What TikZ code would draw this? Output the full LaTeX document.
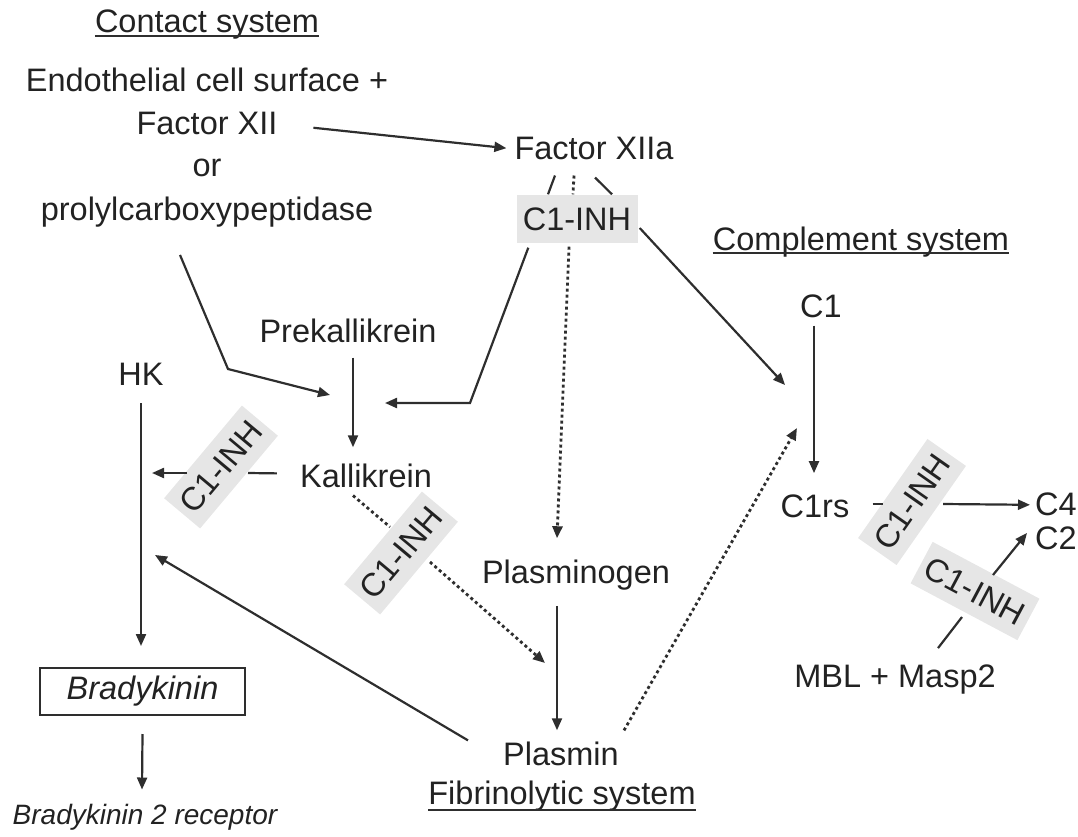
\documentclass[tikz,border=0pt]{standalone}
\usepackage{fontspec}
\setmainfont{Liberation Sans}
\usetikzlibrary{arrows.meta,calc}
\definecolor{txt}{HTML}{222222}
\definecolor{lin}{HTML}{2E2E2E}
\definecolor{inhfill}{HTML}{E6E6E6}
\begin{document}
\begin{tikzpicture}[x=1pt,y=-1pt,
  lbl/.style={inner sep=0pt, font=\fontsize{32.5}{39}\selectfont, text=txt},
  inh/.style={fill=inhfill, minimum width=121pt, minimum height=47pt, inner sep=0pt,
              font=\fontsize{32.5}{39}\selectfont, text=txt},
  conn/.style={draw=lin, line width=2.2pt},
  arr/.style={conn, -{Triangle[length=12pt,width=10pt]}},
  dotl/.style={dash pattern=on 3pt off 3pt, line width=2.8pt},
  uline/.style={draw=lin, line width=1.6pt}]
\useasboundingbox (0,0) rectangle (1078,837);

% ---- text nodes
\node[lbl,anchor=base] (cs) at (207,33) {Contact system};
\node[lbl,anchor=base] (endo) at (207,92) {Endothelial cell surface +};
\node[lbl,anchor=base] (fxii) at (207,135) {Factor XII};
\node[lbl,anchor=base] (or) at (207,177) {or};
\node[lbl,anchor=base] (prolyl) at (207,220) {prolylcarboxypeptidase};
\node[lbl,anchor=base] (fxiia) at (594,160) {Factor XIIa};
\node[inh] (inh1) at (577,219) {C1-INH};
\node[lbl,anchor=base] (cms) at (861,250) {Complement system};
\node[lbl,anchor=base] (c1) at (821,317) {C1};
\node[lbl,anchor=base] (c1rs) at (815,517) {C1rs};
\node[lbl,anchor=base west] (c4) at (1035,515) {C4};
\node[lbl,anchor=base west] (c2) at (1035,549) {C2};
\node[lbl,anchor=base] (mbl) at (895,687) {MBL + Masp2};
\node[lbl,anchor=base] (prek) at (348,342) {Prekallikrein};
\node[lbl,anchor=base] (kal) at (366,487) {Kallikrein};
\node[lbl,anchor=base] (hk) at (141,385) {HK};
\node[lbl,anchor=base] (plg) at (576,583) {Plasminogen};
\node[lbl,anchor=base] (plm) at (561,765) {Plasmin};
\node[lbl,anchor=base] (fib) at (562,804) {Fibrinolytic system};
\node[draw=lin, line width=2pt, minimum width=205pt, minimum height=47pt, inner sep=0pt,
      font=\itshape\fontsize{32.5}{39}\selectfont, text=txt] (brady) at (142.5,691.5) {Bradykinin};
\node[inner sep=0pt, anchor=base, font=\itshape\fontsize{28}{33}\selectfont, text=txt]
      (b2r) at (145,824) {Bradykinin 2 receptor};

% ---- rotated inhibitor boxes
\node[inh, rotate=50] (inh2) at (221,467) {C1-INH};
\node[inh, rotate=50] (inh3) at (401,553) {C1-INH};
\node[inh, rotate=55] (inh4) at (912,502) {C1-INH};
\node[inh, rotate=-28] (inh5) at (975,591) {C1-INH};

% ---- underlines
\draw[uline] ($(cs.base west)+(0,3)$) -- ($(cs.base east)+(0,3)$);
\draw[uline] ($(cms.base west)+(0,3)$) -- ($(cms.base east)+(0,3)$);
\draw[uline] ($(fib.base west)+(0,6)$) -- ($(fib.base east)+(0,6)$);

% ---- named free ends / bends
\coordinate (pk1) at (228,369);
\coordinate (pk2) at (330,395);
\coordinate (ik1) at (470,403);
\coordinate (ik2) at (385,403);
\coordinate (c1in) at (785,385);
\coordinate (c1in2) at (797,428);
\coordinate (hkin) at (152,473);
\coordinate (hkin2) at (155,555);
\coordinate (plmin) at (545,663);
\coordinate (c2in) at (1027,533);

% ---- contact system
\draw[arr, shorten <=36pt, shorten >=8pt] (fxii.east) -- (fxiia.west);
\draw[arr] ($(prolyl.south)+(-27,28)$) -- (pk1) -- (pk2);
\draw[conn] ($(fxiia.south)+(-39,15)$) -- ($(inh1.north)+(-29,-1)$);
\draw[conn, dotl] ($(fxiia.south)+(-20,15)$) -- ($(inh1.north)+(-4,-1)$);
\draw[conn] ($(fxiia.south)+(1,17)$) -- ($(inh1.north)+(35,-1)$);
\draw[arr] ($(inh1.south west)+(12,5)$) -- (ik1) -- (ik2);
\draw[arr, dotl] ($(inh1.south)+(-8,4)$) -- ($(plg.north)+(-19,-21)$);
\draw[arr] ($(inh1.east)+(2,9)$) -- (c1in);

% ---- kallikrein / HK
\draw[arr] ($(prek.south)+(5,15)$) -- ($(kal.north)+(-13,-16)$);
\draw[conn] ($(kal.west)+(-23,-2)$) -- ($(inh2.center)+(27,6)$);
\draw[arr] ($(inh2.center)+(-34,6)$) -- (hkin);
\draw[conn, dotl] ($(kal.south)+(-13,8)$) -- ($(inh3.center)+(-11,-26)$);
\draw[arr, dotl] ($(inh3.center)+(29,9)$) -- (plmin);
\draw[arr] ($(hk.south)+(0,18)$) -- ($(brady.north)+(-1.5,-21)$);
\draw[arr] ($(brady.south)+(0,18)$) -- ($(b2r.north)+(-3,-14)$);

% ---- fibrinolytic
\draw[arr] ($(plg.south)+(-19,16)$) -- ($(plm.north)+(-4,-11)$);
\draw[arr] ($(plm.west)+(-35,-13)$) -- (hkin2);
\draw[arr, dotl] ($(plm.east)+(5,-23)$) -- (c1in2);

% ---- complement
\draw[arr] ($(c1.south)+(-7,8)$) -- ($(c1rs.north)+(-1,-21)$);
\draw[conn] ($(c1rs.east)+(23,-2)$) -- ($(c1rs.east)+(33,-2)$);
\draw[arr] ($(inh4.center)+(31,2)$) -- ($(c4.west)+(-5,1)$);
\draw[conn] ($(mbl.north)+(43,-16)$) -- ($(inh5.center)+(-13,26)$);
\draw[arr] ($(inh5.center)+(18,-16)$) -- (c2in);
\end{tikzpicture}
\end{document}
